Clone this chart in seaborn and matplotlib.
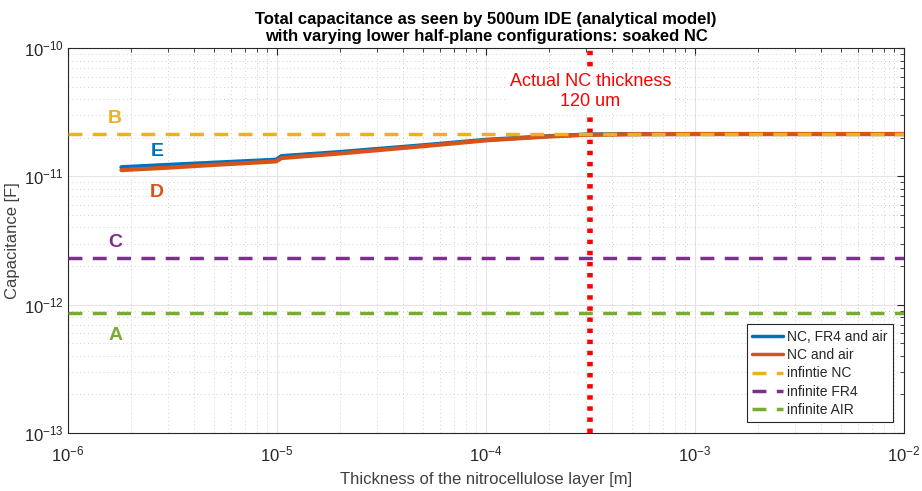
import numpy as np
import pandas as pd
import matplotlib
matplotlib.use("Agg")
import matplotlib.pyplot as plt
import seaborn as sns
from matplotlib.lines import Line2D

# thickness of NC layer [m]
thickness = [1.8e-6, 3e-6, 5e-6, 9.9e-6, 1.05e-5, 2e-5, 5e-5, 1e-4, 2e-4, 3e-4, 5e-4, 1e-3, 1e-2]
cap_nc_fr4_air = [1.18e-11, 1.23e-11, 1.28e-11, 1.35e-11, 1.44e-11, 1.55e-11, 1.75e-11,
                  1.93e-11, 2.06e-11, 2.12e-11, 2.14e-11, 2.14e-11, 2.14e-11]
cap_nc_air = [1.12e-11, 1.17e-11, 1.23e-11, 1.31e-11, 1.39e-11, 1.51e-11, 1.72e-11,
              1.91e-11, 2.05e-11, 2.11e-11, 2.13e-11, 2.14e-11, 2.14e-11]
cap_inf_nc = 2.14e-11
cap_inf_fr4 = 2.31e-12
cap_inf_air = 8.6e-13
nc_actual = 3.16e-4

xticks = [1e-6, 1e-5, 1e-4, 1e-3, 1e-2]
yticks = [1e-13, 1e-12, 1e-11, 1e-10]
xtick_labels = [r"$10^{-6}$", r"$10^{-5}$", r"$10^{-4}$", r"$10^{-3}$", r"$10^{-2}$"]
ytick_labels = [r"$10^{-13}$", r"$10^{-12}$", r"$10^{-11}$", r"$10^{-10}$"]

series_names = ["NC, FR4 and air", "NC and air"]
colores = {"NC, FR4 and air": "#0072BD", "NC and air": "#D95319"}

df = pd.DataFrame({
    "thickness": thickness * 2,
    "cap": cap_nc_fr4_air + cap_nc_air,
    "serie": [series_names[0]] * len(thickness) + [series_names[1]] * len(thickness),
})

sns.set_style("white")
plt.rcParams["font.family"] = ["Liberation Sans", "DejaVu Sans"]
plt.rcParams["mathtext.fontset"] = "custom"
plt.rcParams["mathtext.rm"] = "Liberation Sans"
plt.rcParams["mathtext.it"] = "Liberation Sans:italic"
plt.rcParams["mathtext.bf"] = "Liberation Sans:bold"
plt.rcParams["mathtext.default"] = "regular"

fig = plt.figure(figsize=(9.22, 4.91), dpi=100)
ax = fig.add_axes([0.0738, 0.118, 0.9067, 0.784])

sns.lineplot(data=df, x="thickness", y="cap", hue="serie", palette=colores,
             linewidth=3, ax=ax, legend=False, zorder=4)
ax.axhline(cap_inf_nc, color="#EDB120", ls=(0, (4, 3)), lw=2.5, zorder=5)
ax.axhline(cap_inf_fr4, color="#7E2F8E", ls=(0, (4, 3)), lw=2.5, zorder=5)
ax.axhline(cap_inf_air, color="#77AC30", ls=(0, (4, 3)), lw=2.5, zorder=5)
ax.axvline(nc_actual, color="red", ls=(0, (0.8, 1.2)), lw=4, zorder=3)

ax.set_xscale("log")
ax.set_yscale("log")
ax.set_xticks(xticks)
ax.set_xticklabels(xtick_labels)
ax.set_yticks(yticks)
ax.set_yticklabels(ytick_labels)
ax.set_xlim(1e-6, 1e-2)
ax.set_ylim(1e-13, 1e-10)

ax.grid(True, which="major", color="#e4e4e4", ls="-", lw=0.8)
ax.grid(True, which="minor", color="#d0d0d0", ls=(0, (1, 3)), lw=0.7)
ax.set_axisbelow(True)
ax.tick_params(which="both", direction="in", top=True, right=True, colors="#262626",
               labelsize=12)
ax.tick_params(axis="x", pad=8)
ax.tick_params(axis="y", pad=3)
ax.tick_params(which="major", length=5)
ax.tick_params(which="minor", length=3)
for s in ax.spines.values():
    s.set_color("#262626")
    s.set_linewidth(0.8)

ax.set_xlabel("Thickness of the nitrocellulose layer [m]", fontsize=12, color="#404040", labelpad=6)
ax.set_ylabel("Capacitance [F]", fontsize=12, color="#404040", labelpad=3)
ax.set_title("Total capacitance as seen by 500um IDE (analytical model)\n"
             "with varying lower half-plane configurations: soaked NC",
             fontsize=12, fontweight="bold", color="black", pad=5)

# labels
ax.text(1.68e-6, 2.85e-11, "B", color="#EDB120", fontsize=14, fontweight="bold", ha="center", va="center")
ax.text(2.67e-6, 1.57e-11, "E", color="#0072BD", fontsize=14, fontweight="bold", ha="center", va="center")
ax.text(2.67e-6, 7.55e-12, "D", color="#D95319", fontsize=14, fontweight="bold", ha="center", va="center")
ax.text(1.68e-6, 3.08e-12, "C", color="#7E2F8E", fontsize=14, fontweight="bold", ha="center", va="center")
ax.text(1.68e-6, 5.8e-13, "A", color="#77AC30", fontsize=14, fontweight="bold", ha="center", va="center")
ax.text(nc_actual, 4.6e-11, "Actual NC thickness\n120 um", color="red", fontsize=13,
        ha="center", va="center", zorder=6,
        bbox=dict(facecolor="white", edgecolor="none", pad=1))

handles = [
    Line2D([], [], color="#0072BD", lw=2.5),
    Line2D([], [], color="#D95319", lw=2.5),
    Line2D([], [], color="#EDB120", lw=2.5, ls=(0, (4, 3))),
    Line2D([], [], color="#7E2F8E", lw=2.5, ls=(0, (4, 3))),
    Line2D([], [], color="#77AC30", lw=2.5, ls=(0, (4, 3))),
]
labels = ["NC, FR4 and air", "NC and air", "infintie NC", "infinite FR4", "infinite AIR"]
leg = ax.legend(handles, labels, loc="lower right", fontsize=10, fancybox=False,
                framealpha=1, edgecolor="#262626", handlelength=2.2, handletextpad=0.3,
                borderpad=0.4, labelspacing=0.3, bbox_to_anchor=(0.995, 0.01))
leg.get_frame().set_linewidth(0.8)
leg.set_zorder(10)

fig.savefig("out.png", dpi=100)
